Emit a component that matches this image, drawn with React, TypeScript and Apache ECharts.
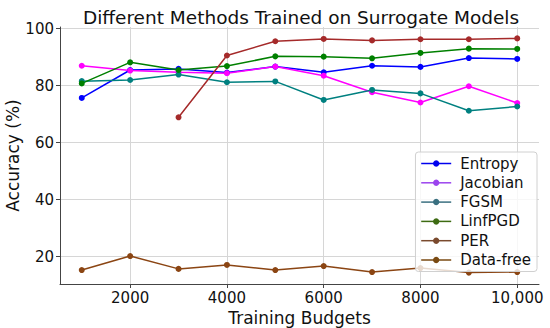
import React, { useEffect, useRef } from "react";
import * as echarts from "echarts";

const budgets = [1000, 2000, 3000, 4000, 5000, 6000, 7000, 8000, 9000, 10000];
const entropy = [75.7, 85.5, 85.9, 84.6, 86.7, 84.7, 87.0, 86.6, 89.7, 89.4];
const jacobian = [87.0, 85.3, 84.7, 84.4, 86.7, 83.5, 77.7, 74.1, 79.8, 73.9];
const fgsm = [81.6, 82.0, 83.9, 81.2, 81.5, 75.0, 78.5, 77.3, 71.2, 72.7];
const linfpgd = [80.8, 88.2, 85.5, 86.9, 90.3, 90.2, 89.6, 91.5, 93.0, 92.9];
const per = [null, null, 68.9, 90.6, 95.6, 96.4, 95.9, 96.3, 96.3, 96.6];
const dataFree = [15.3, 20.2, 15.7, 17.1, 15.3, 16.7, 14.6, 16.0, 14.4, 14.6];
const xTicks = [2000, 4000, 6000, 8000, 10000];
const yTicks = [20, 40, 60, 80, 100];

const seriesDefs = [
  { name: "Entropy", values: entropy, color: "#0000ff", legendColor: "#0000ee" },
  { name: "Jacobian", values: jacobian, color: "#ff00ff", legendColor: "#9b44ee" },
  { name: "FGSM", values: fgsm, color: "#008080", legendColor: "#3a7080" },
  { name: "LinfPGD", values: linfpgd, color: "#008000", legendColor: "#3d6b12" },
  { name: "PER", values: per, color: "#a52a2a", legendColor: "#7a4a2e" },
  { name: "Data-free", values: dataFree, color: "#8b4513", legendColor: "#7a4a12" },
];

const FONT = "DejaVu Sans";

export default function App() {
  const ref = useRef<HTMLDivElement>(null);
  useEffect(() => {
    if (!ref.current) return;
    const chart = echarts.init(ref.current, null, { renderer: "svg" });
    chart.setOption({
      animation: false,
      textStyle: { fontFamily: FONT },
      title: {
        text: "Different Methods Trained on Surrogate Models",
        left: 296,
        textAlign: "center",
        top: 3,
        textStyle: { fontFamily: FONT, fontSize: 18.5, fontWeight: "normal", color: "#111" },
      },
      grid: { left: 60, right: 11, top: 27, bottom: 44, containLabel: false, outerBoundsMode: "none" },
      legend: {
        orient: "vertical",
        right: 13,
        top: 152,
        itemWidth: 30,
        itemHeight: 8,
        itemGap: 4.3,
        padding: [4, 6, 4, 5],
        backgroundColor: "rgba(255,255,255,0.8)",
        borderColor: "#d0d0d0",
        borderWidth: 1,
        borderRadius: 3,
        textStyle: { fontFamily: FONT, fontSize: 15, color: "#111", padding: [0, 0, 0, 4] },
        data: seriesDefs.map((s) => ({
          name: s.name,
          itemStyle: { color: s.legendColor },
          lineStyle: { color: s.legendColor, width: 1.5 },
        })),
      },
      xAxis: {
        type: "value",
        min: 550,
        max: 10450,
        name: "Training Budgets",
        nameLocation: "middle",
        nameGap: 25,
        nameMoveOverlap: false,
        nameTextStyle: { fontFamily: FONT, fontSize: 17, color: "#111", lineHeight: 17 },
        axisLine: { show: true, lineStyle: { color: "#444", width: 1 } },
        axisTick: { show: true, length: 4, lineStyle: { color: "#444" }, customValues: xTicks },
        axisLabel: {
          customValues: xTicks,
          fontFamily: FONT,
          fontSize: 15,
          lineHeight: 15,
          color: "#111",
          margin: 6,
          formatter: (v: number) => (v >= 10000 ? "10,000" : String(v)),
        },
        splitLine: { show: true, lineStyle: { color: "#d6d6d6", width: 1 } },
      },
      yAxis: {
        type: "value",
        min: 10.4,
        max: 100.6,
        name: "Accuracy (%)",
        nameLocation: "middle",
        nameGap: 39,
        nameMoveOverlap: false,
        nameTextStyle: { fontFamily: FONT, fontSize: 17, color: "#111" },
        axisLine: { show: true, lineStyle: { color: "#444", width: 1 } },
        axisTick: { show: true, length: 4, lineStyle: { color: "#444" }, customValues: yTicks },
        axisLabel: {
          customValues: yTicks,
          fontFamily: FONT,
          fontSize: 15,
          color: "#111",
          margin: 6,
        },
        splitLine: { show: true, lineStyle: { color: "#d6d6d6", width: 1 } },
      },
      series: seriesDefs.map((s) => ({
        name: s.name,
        type: "line",
        data: budgets.map((b, i) => [b, s.values[i]]),
        symbol: "circle",
        symbolSize: 6,
        showSymbol: true,
        connectNulls: false,
        lineStyle: { color: s.color, width: 1.5 },
        itemStyle: { color: s.color },
        emphasis: { disabled: true },
      })),
    });
    return () => chart.dispose();
  }, []);
  return <div ref={ref} style={{ width: 550, height: 328, position: "absolute", left: 0, top: 0 }} />;
}
